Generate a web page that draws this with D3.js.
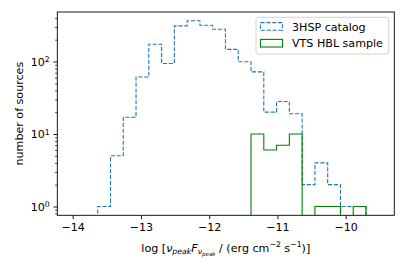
<!DOCTYPE html>
<html>
<head>
<meta charset="utf-8">
<script src="https://cdn.jsdelivr.net/npm/d3@7"></script>
<style>
  html, body { margin: 0; padding: 0; background: #fff; }
  text { font-family: "DejaVu Sans", sans-serif; }
</style>
</head>
<body>
<div id="chart"></div>
<script>
// ---- data ----
const binStart = -13.633;
const binWidth = 0.1872;
const catalogCounts = [1, 5, 17, 61, 173, 94, 310, 365, 316, 278, 147, 99, 72, 20, 28, 19, 2, 4, 2, 1, 1];
const sampleCounts  = [0, 0, 0, 0, 0, 0, 0, 0, 0, 0, 0, 0, 10, 6, 7, 10, 0, 1, 1, 0, 1];
const xTicks = [-14, -13, -12, -11, -10];
const yMajorTicks = [1, 10, 100];
const yTickExp = ["0", "1", "2"];
const seriesNames = ["3HSP catalog", "VTS HBL sample"];
const seriesColors = ["#1f77b4", "#008000"];

const W = 407, H = 271;
const L = 57.3, R = 394.3, T = 12, B = 215.3;
const fs = 11.1;

const svg = d3.select("#chart").append("svg").attr("width", W).attr("height", H);

const x = d3.scaleLinear().domain([-14.225, -9.2875]).range([L, R]);
const y = d3.scaleLog().domain([Math.pow(10, -0.1215), Math.pow(10, 2.6825)]).range([B, T]);

svg.append("clipPath").attr("id", "clip").append("rect")
  .attr("x", L).attr("y", T).attr("width", R - L).attr("height", B - T);

function stepPoints(counts) {
  const pts = [];
  const edge = i => binStart + i * binWidth;
  pts.push([edge(0), 0]);
  counts.forEach((c, i) => { pts.push([edge(i), c]); pts.push([edge(i + 1), c]); });
  pts.push([edge(counts.length), 0]);
  return pts;
}
const line = d3.line()
  .x(d => x(d[0]))
  .y(d => d[1] > 0 ? y(d[1]) : y.range()[0] + 10);

const g = svg.append("g").attr("clip-path", "url(#clip)");
g.append("path").attr("d", line(stepPoints(catalogCounts)))
  .attr("fill", "none").attr("stroke", seriesColors[0]).attr("stroke-width", 1.1)
  .attr("stroke-dasharray", "4.1,1.8");
g.append("path").attr("d", line(stepPoints(sampleCounts)))
  .attr("fill", "none").attr("stroke", seriesColors[1]).attr("stroke-width", 1.1);

// axes
const xAxis = svg.append("g").attr("transform", `translate(0,${B})`)
  .call(d3.axisBottom(x).tickValues(xTicks).tickSize(3.9).tickPadding(4)
    .tickFormat(d => "\u2212" + Math.abs(d)));
xAxis.select(".domain").remove();
xAxis.selectAll("line").attr("stroke", "#000").attr("stroke-width", 0.9);
xAxis.selectAll("text").attr("font-size", fs).attr("font-family", "DejaVu Sans").attr("fill", "#000");

// y minor ticks
const minor = [];
[0.1, 1, 10, 100].forEach(dec => { for (let k = 2; k <= 9; k++) minor.push(dec * k); });
const yMinorVals = minor.filter(v => v >= y.domain()[0] && v <= y.domain()[1]);
const yMinorAxis = svg.append("g").attr("transform", `translate(${L},0)`)
  .call(d3.axisLeft(y).tickValues(yMinorVals).tickSize(2.2).tickFormat(""));
yMinorAxis.select(".domain").remove();
yMinorAxis.selectAll("line").attr("stroke", "#000").attr("stroke-width", 0.7);

const yAxis = svg.append("g").attr("transform", `translate(${L},0)`)
  .call(d3.axisLeft(y).tickValues(yMajorTicks).tickSize(3.9).tickPadding(4).tickFormat(""));
yAxis.select(".domain").remove();
yAxis.selectAll("line").attr("stroke", "#000").attr("stroke-width", 0.9);
yAxis.selectAll(".tick").each(function(d, i) {
  const t = d3.select(this).append("text")
    .attr("x", -7.5).attr("dy", "0.32em").attr("text-anchor", "end")
    .attr("font-size", fs).attr("fill", "#000");
  t.append("tspan").text("10");
  t.append("tspan").attr("dy", "-0.45em").attr("font-size", fs * 0.7).text(yTickExp[i]);
});

// frame
svg.append("rect").attr("x", L).attr("y", T).attr("width", R - L).attr("height", B - T)
  .attr("fill", "none").attr("stroke", "#000").attr("stroke-width", 0.9);

// y label
svg.append("text")
  .attr("transform", `translate(23,${(T + B) / 2}) rotate(-90)`)
  .attr("text-anchor", "middle").attr("font-size", fs).attr("fill", "#000")
  .text("number of sources");

// x label
const xl = svg.append("text").attr("x", (L + R) / 2).attr("y", 251.5)
  .attr("text-anchor", "middle").attr("font-size", fs).attr("fill", "#000");
xl.append("tspan").text("log [");
xl.append("tspan").attr("font-style", "italic").text("\u03bd");
xl.append("tspan").attr("font-style", "italic").attr("font-size", fs * 0.7).attr("dy", 2.5).text("peak");
xl.append("tspan").attr("font-style", "italic").attr("dy", -2.5).text("F");
xl.append("tspan").attr("font-style", "italic").attr("font-size", fs * 0.7).attr("dy", 2.5).text("\u03bd");
xl.append("tspan").attr("font-style", "italic").attr("font-size", fs * 0.5).attr("dy", 1.5).text("peak");
xl.append("tspan").attr("dy", -4).text(" / (erg cm");
xl.append("tspan").attr("font-size", fs * 0.7).attr("dy", -4.5).text("\u22122");
xl.append("tspan").attr("dy", 4.5).text(" s");
xl.append("tspan").attr("font-size", fs * 0.7).attr("dy", -4.5).text("\u22121");
xl.append("tspan").attr("dy", 4.5).text(")]");

// legend
const lg = svg.append("g");
lg.append("rect").attr("x", 256).attr("y", 17.3).attr("width", 132.7).attr("height", 36.7)
  .attr("rx", 2.5).attr("fill", "#fff").attr("fill-opacity", 0.8)
  .attr("stroke", "#cccccc").attr("stroke-width", 0.9);
const rowsY = [26.4, 43.2];
seriesNames.forEach((name, i) => {
  lg.append("rect").attr("x", 260.5).attr("y", rowsY[i] - 3.8).attr("width", 22).attr("height", 7.6)
    .attr("fill", "none").attr("stroke", seriesColors[i]).attr("stroke-width", 1.1)
    .attr("stroke-dasharray", i === 0 ? "4.1,1.8" : null);
  lg.append("text").attr("x", 292).attr("y", rowsY[i]).attr("dy", "0.38em")
    .attr("font-size", fs).attr("fill", "#000").text(name);
});
</script>
</body>
</html>
